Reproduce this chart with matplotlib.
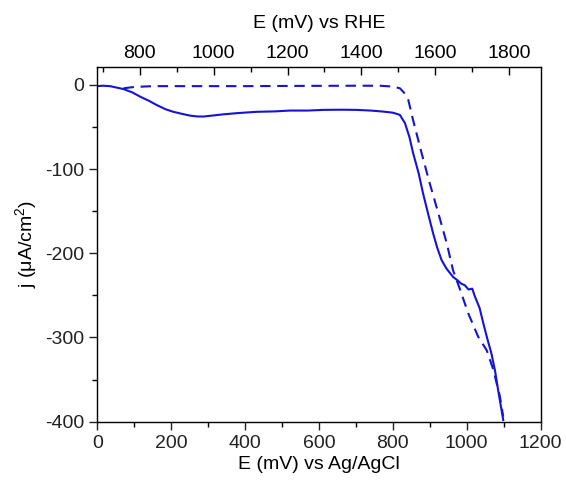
import matplotlib
matplotlib.use("Agg")
import matplotlib.pyplot as plt
from matplotlib.ticker import MultipleLocator

plt.rcParams['font.family'] = ['Liberation Sans', 'DejaVu Sans']
plt.rcParams['mathtext.fontset'] = 'custom'
plt.rcParams['mathtext.rm'] = 'Liberation Sans'
plt.rcParams['mathtext.it'] = 'Liberation Sans:italic'
plt.rcParams['axes.unicode_minus'] = False

# Solid curve (E vs Ag/AgCl in mV, j in uA/cm2)
solid_E = [0, 15, 34, 50, 71, 95, 116, 140, 161, 185, 206, 230, 251, 270, 287, 310, 341, 380, 431, 480, 521, 570,
           612, 660, 702, 740, 774, 800, 819, 833, 845, 855, 870, 882, 895, 909, 920, 932, 945, 963, 975, 985,
           995, 1005, 1015, 1022, 1035, 1045, 1055, 1067, 1077, 1085, 1092, 1099]
solid_j = [-1.5, -1.0, -1.5, -3, -5, -9, -14, -19, -24, -29, -32, -34.5, -36.5, -37.5, -37.6, -36.5, -35, -33.5, -32, -31.5, -30.5, -30.5,
           -29.7, -29.5, -29.7, -30.5, -31.7, -33, -35.6, -45.5, -62, -81, -105, -129, -152, -176, -193, -208, -218, -228, -232, -236,
           -238, -243, -242, -251, -265, -283, -300, -319, -340, -362, -380, -398]

# Dashed curve
dash_E = [71, 100, 150, 250, 400, 550, 700, 765, 800, 819, 830, 842, 855, 878, 900, 923, 946, 963, 982,
          1004, 1031, 1054, 1072, 1090, 1099]
dash_j = [-4, -2.5, -1.5, -1.5, -1.5, -1.2, -1.0, -1.0, -2, -4, -9, -18, -42, -81, -117, -152, -188, -220, -243,
          -271, -299, -315, -338, -370, -394]

rhe_offset = 685  # mV, RHE = Ag/AgCl + offset
top_ticks = [800, 1000, 1200, 1400, 1600, 1800]

color = '#1414d2'

fig = plt.figure(figsize=(5.66, 4.8), dpi=100)
ax = fig.add_axes([0.172, 0.1215, 0.783, 0.7385])
ax.plot(solid_E, solid_j, color=color, lw=1.5)
ax.plot(dash_E, dash_j, color=color, lw=1.5, ls=(0, (5, 3.2)))

ax.set_xlim(0, 1200)
ax.set_ylim(-400, 21)
ax.xaxis.set_major_locator(MultipleLocator(200))
ax.xaxis.set_minor_locator(MultipleLocator(100))
ax.yaxis.set_major_locator(MultipleLocator(100))
ax.yaxis.set_minor_locator(MultipleLocator(50))
ax.tick_params(axis='both', which='major', direction='out', length=6, width=1, labelsize=14, colors='#222222')
ax.tick_params(axis='both', which='minor', direction='out', length=3.5, width=1)
ax.tick_params(top=False, right=False, which='both')
ax.set_xlabel('E (mV) vs Ag/AgCl', fontsize=14, labelpad=3)
ax.set_ylabel('j (μA/cm$^{2}$)', fontsize=14, labelpad=4)
for s in ax.spines.values():
    s.set_linewidth(1.0)
    s.set_color('#333333')

ax2 = ax.twiny()
ax2.set_xlim(0 + rhe_offset, 1200 + rhe_offset)
ax2.set_xticks(top_ticks)
ax2.xaxis.set_minor_locator(MultipleLocator(100))
ax2.tick_params(axis='x', which='major', direction='in', length=6, width=1, labelsize=14, pad=4)
ax2.tick_params(axis='x', which='minor', direction='in', length=3.5, width=1)
ax2.set_xlabel('E (mV) vs RHE', fontsize=14, labelpad=12)

fig.savefig('out.png', dpi=100)
